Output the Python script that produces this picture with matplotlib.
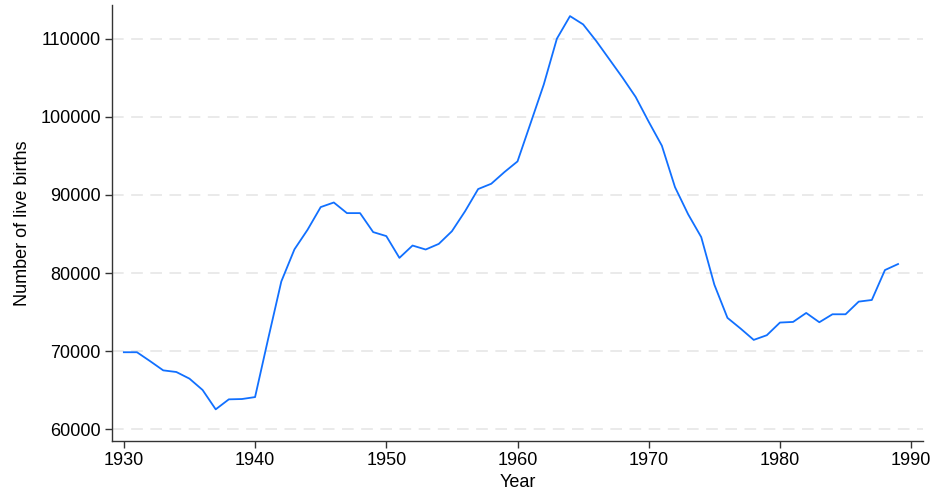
import matplotlib.pyplot as plt

plt.rcParams['font.family'] = ['Liberation Sans', 'DejaVu Sans']

# live births per year
years = list(range(1930, 1990))
births = [69860, 69860, 68720, 67540, 67330, 66480, 65030, 62550, 63830, 63870,
          64120, 71600, 78920, 83030, 85540, 88440, 89030, 87670, 87670, 85240,
          84730, 81940, 83520, 83010, 83730, 85350, 87900, 90750, 91430, 92920,
          94290, 99200, 104130, 110000, 112890, 111830, 109700, 107360, 105020, 102550,
          99360, 96300, 91000, 87530, 84600, 78510, 74260, 72890, 71440, 72040,
          73660, 73740, 74890, 73700, 74720, 74720, 76340, 76550, 80380, 81150]
x_ticks = [1930, 1940, 1950, 1960, 1970, 1980, 1990]
y_ticks = [60000, 70000, 80000, 90000, 100000, 110000]

fig = plt.figure(figsize=(9.36, 4.96), dpi=100)
ax = fig.add_axes([0.1197, 0.1103, 0.8664, 0.8796])

ax.plot(years, births, color='#1170ff', lw=1.3, zorder=3)

ax.set_xlim(1929.1, 1990.9)
ax.set_ylim(58460, 114310)
ax.set_xticks(x_ticks)
ax.set_yticks(y_ticks)

ax.grid(axis='y', color='#e6e6e6', lw=1.2, linestyle=(0, (7, 4.5)))
ax.set_axisbelow(True)

for s in ['top', 'right']:
    ax.spines[s].set_visible(False)
for s in ['left', 'bottom']:
    ax.spines[s].set_color('#333333')
    ax.spines[s].set_linewidth(1.0)

ax.tick_params(axis='both', direction='out', length=5, width=1.0,
               color='#333333', labelsize=13, pad=3)

ax.set_xlabel('Year', fontsize=13, labelpad=3)
ax.set_ylabel('Number of live births', fontsize=13, labelpad=7)

fig.savefig('out.png', dpi=100)
